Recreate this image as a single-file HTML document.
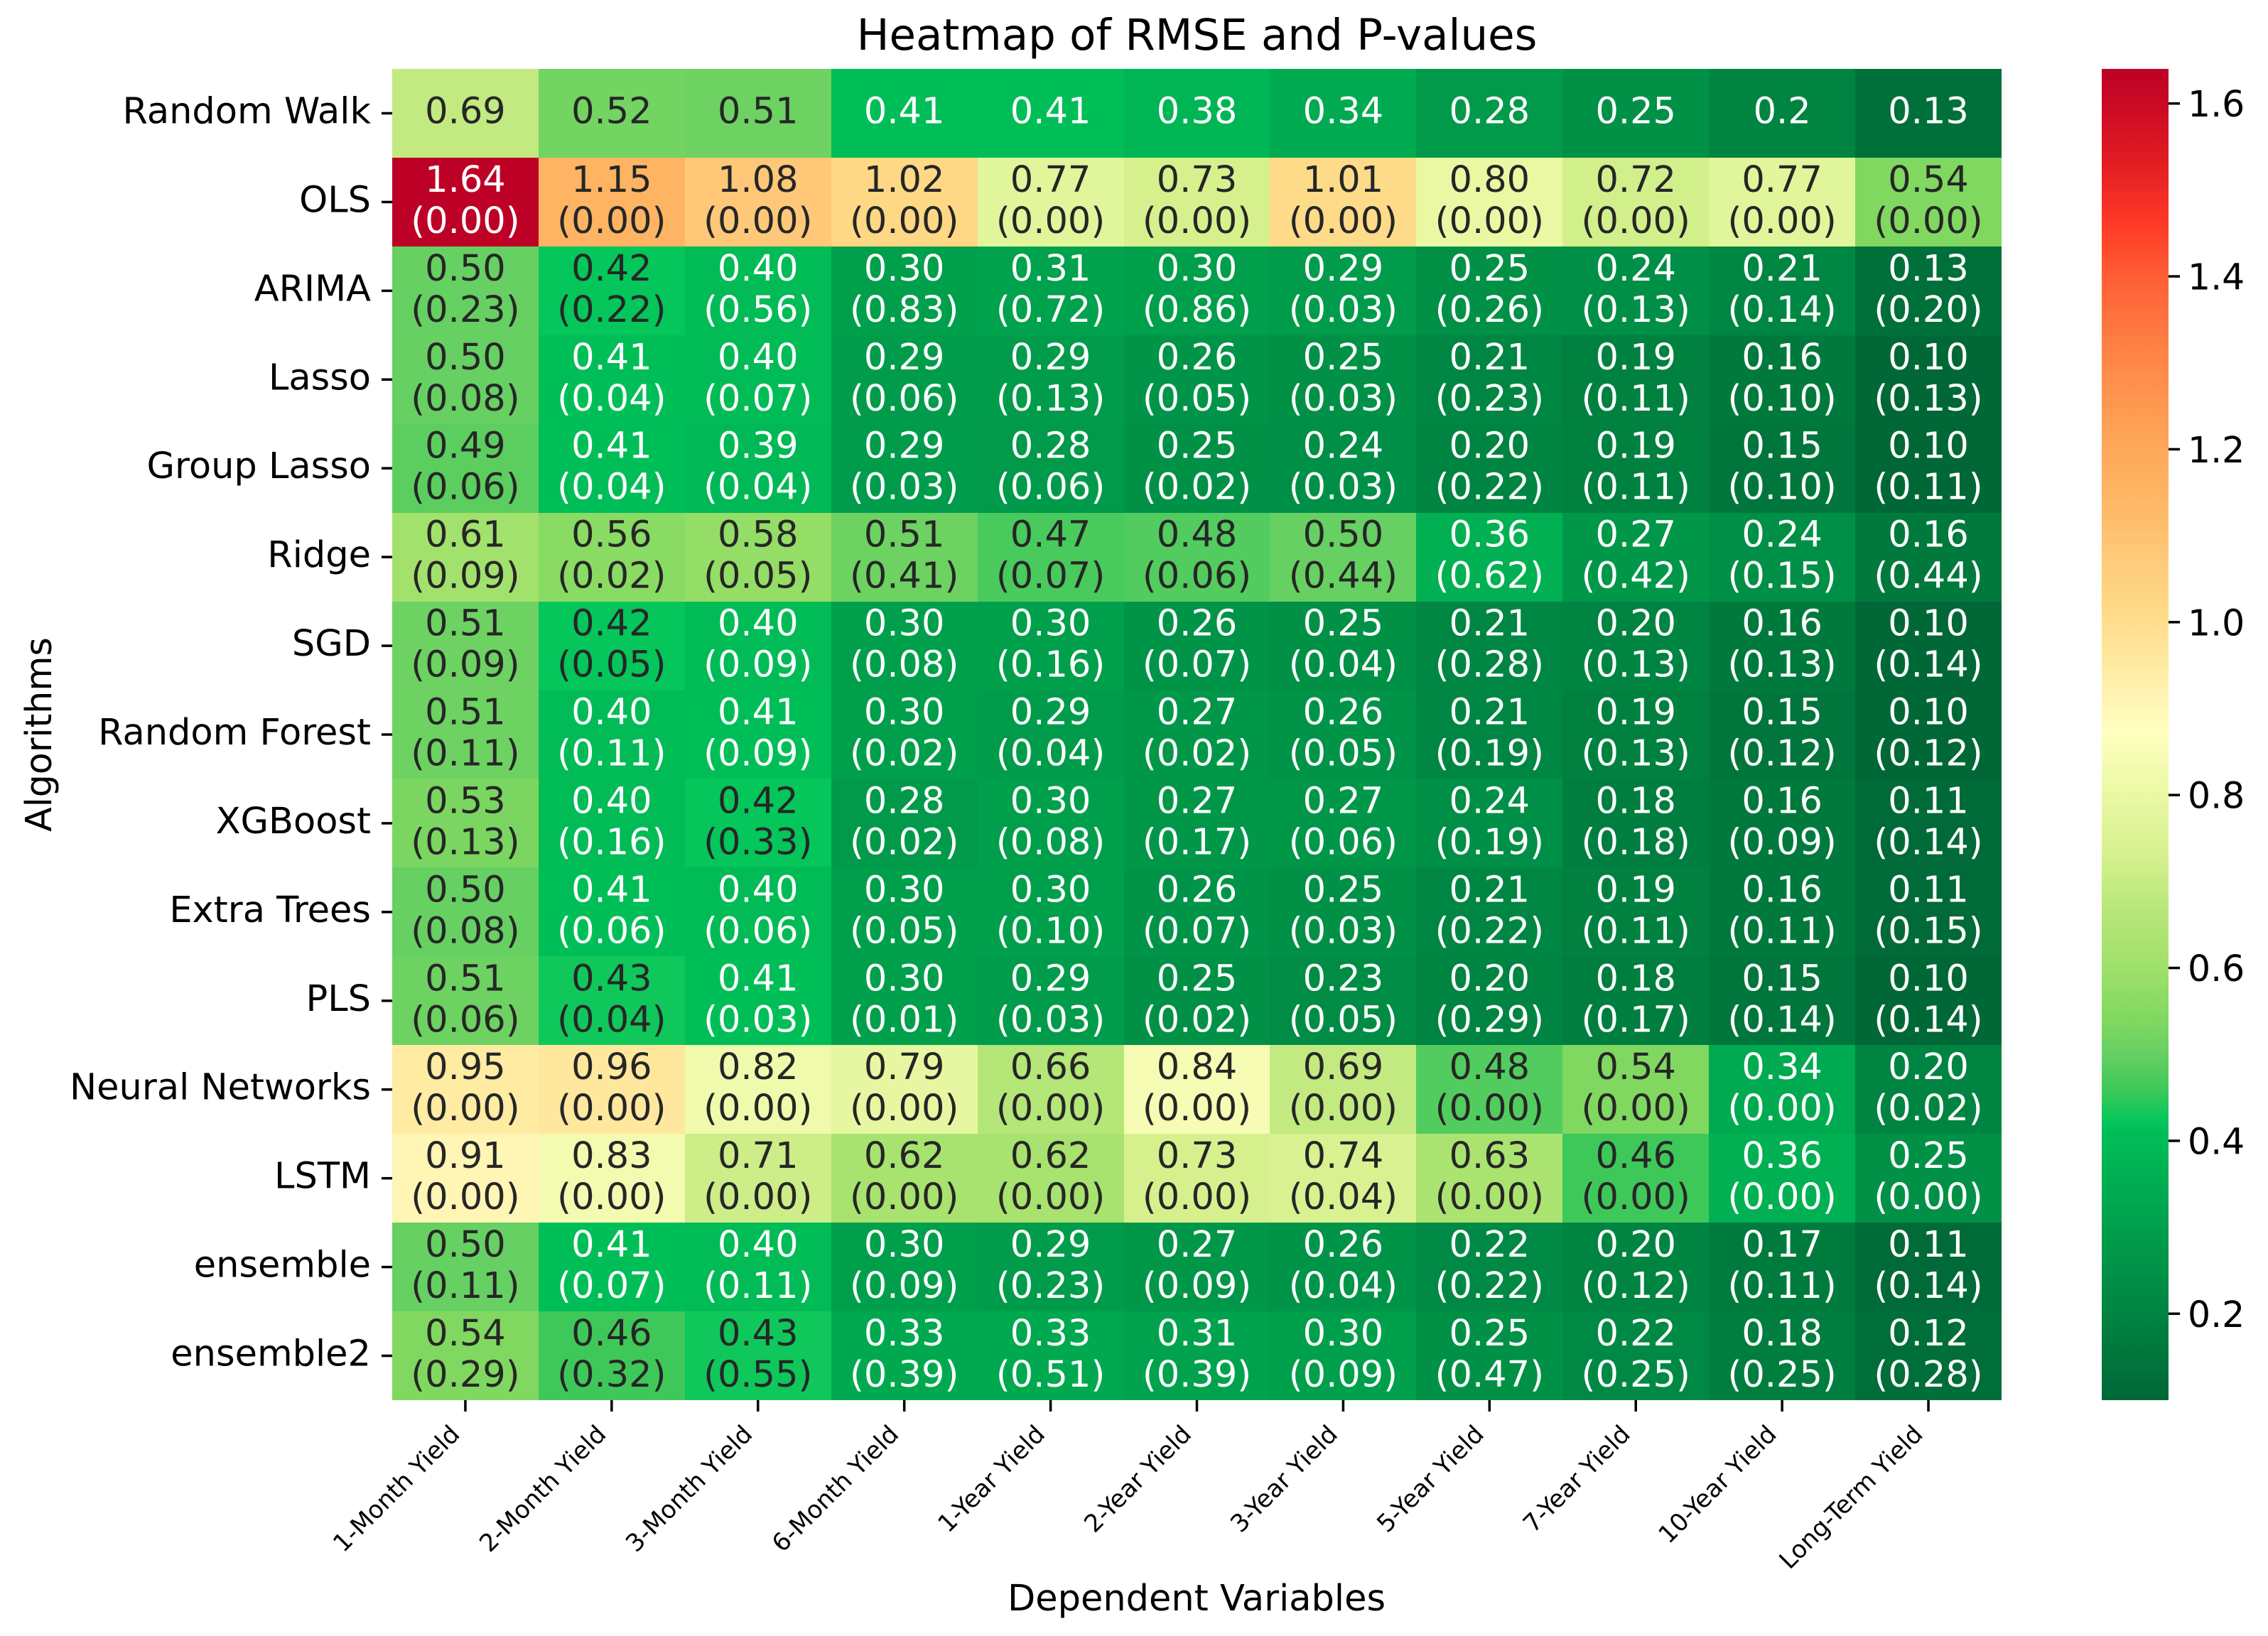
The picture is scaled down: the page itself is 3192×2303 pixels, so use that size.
<!DOCTYPE html>
<html lang="en">
<head>
<meta charset="utf-8">
<title>Heatmap of RMSE and P-values</title>
<style>
html,body{margin:0;padding:0;background:#fff;}
svg{display:block;}
text{font-family:"DejaVu Sans","Liberation Sans",sans-serif;}
</style>
</head>
<body>
<svg id="chart" xmlns="http://www.w3.org/2000/svg" width="3192" height="2303" viewBox="0 0 3192 2303">
  <defs>
    <linearGradient id="cbar-gradient" x1="0" y1="1" x2="0" y2="0"></linearGradient>
  </defs>
  <rect x="0" y="0" width="3192" height="2303" fill="#ffffff"/>
  <text x="1684.5" y="70" font-size="61" text-anchor="middle" fill="#000">Heatmap of RMSE and P-values</text>
  <text x="1684" y="2267" font-size="51" text-anchor="middle" fill="#000">Dependent Variables</text>
  <text transform="translate(72 1034) rotate(-90)" x="0" y="0" font-size="50.5" text-anchor="middle" fill="#000">Algorithms</text>
  <g id="cells"></g>
  <g id="annotations"></g>
  <g id="x-axis"></g>
  <g id="y-axis"></g>
  <rect id="cbar" fill="url(#cbar-gradient)"/>
  <g id="cbar-axis"></g>
</svg>
<script>
const algorithms = ["Random Walk","OLS","ARIMA","Lasso","Group Lasso","Ridge","SGD","Random Forest","XGBoost","Extra Trees","PLS","Neural Networks","LSTM","ensemble","ensemble2"];
const variables = ["1-Month Yield","2-Month Yield","3-Month Yield","6-Month Yield","1-Year Yield","2-Year Yield","3-Year Yield","5-Year Yield","7-Year Yield","10-Year Yield","Long-Term Yield"];
const rmseRandomWalk = [0.69,0.52,0.51,0.41,0.41,0.38,0.34,0.28,0.25,0.2,0.13];
const rmseOLS = [1.64,1.15,1.08,1.02,0.77,0.73,1.01,0.80,0.72,0.77,0.54];
const rmseARIMA = [0.50,0.42,0.40,0.30,0.31,0.30,0.29,0.25,0.24,0.21,0.13];
const rmseLasso = [0.50,0.41,0.40,0.29,0.29,0.26,0.25,0.21,0.19,0.16,0.10];
const rmseGroupLasso = [0.49,0.41,0.39,0.29,0.28,0.25,0.24,0.20,0.19,0.15,0.10];
const rmseRidge = [0.61,0.56,0.58,0.51,0.47,0.48,0.50,0.36,0.27,0.24,0.16];
const rmseSGD = [0.51,0.42,0.40,0.30,0.30,0.26,0.25,0.21,0.20,0.16,0.10];
const rmseRandomForest = [0.51,0.40,0.41,0.30,0.29,0.27,0.26,0.21,0.19,0.15,0.10];
const rmseXGBoost = [0.53,0.40,0.42,0.28,0.30,0.27,0.27,0.24,0.18,0.16,0.11];
const rmseExtraTrees = [0.50,0.41,0.40,0.30,0.30,0.26,0.25,0.21,0.19,0.16,0.11];
const rmsePLS = [0.51,0.43,0.41,0.30,0.29,0.25,0.23,0.20,0.18,0.15,0.10];
const rmseNeuralNetworks = [0.95,0.96,0.82,0.79,0.66,0.84,0.69,0.48,0.54,0.34,0.20];
const rmseLSTM = [0.91,0.83,0.71,0.62,0.62,0.73,0.74,0.63,0.46,0.36,0.25];
const rmseEnsemble = [0.50,0.41,0.40,0.30,0.29,0.27,0.26,0.22,0.20,0.17,0.11];
const rmseEnsemble2 = [0.54,0.46,0.43,0.33,0.33,0.31,0.30,0.25,0.22,0.18,0.12];
const pRandomWalk = [null,null,null,null,null,null,null,null,null,null,null];
const pOLS = [0,0,0,0,0,0,0,0,0,0,0];
const pARIMA = [0.23,0.22,0.56,0.83,0.72,0.86,0.03,0.26,0.13,0.14,0.20];
const pLasso = [0.08,0.04,0.07,0.06,0.13,0.05,0.03,0.23,0.11,0.10,0.13];
const pGroupLasso = [0.06,0.04,0.04,0.03,0.06,0.02,0.03,0.22,0.11,0.10,0.11];
const pRidge = [0.09,0.02,0.05,0.41,0.07,0.06,0.44,0.62,0.42,0.15,0.44];
const pSGD = [0.09,0.05,0.09,0.08,0.16,0.07,0.04,0.28,0.13,0.13,0.14];
const pRandomForest = [0.11,0.11,0.09,0.02,0.04,0.02,0.05,0.19,0.13,0.12,0.12];
const pXGBoost = [0.13,0.16,0.33,0.02,0.08,0.17,0.06,0.19,0.18,0.09,0.14];
const pExtraTrees = [0.08,0.06,0.06,0.05,0.10,0.07,0.03,0.22,0.11,0.11,0.15];
const pPLS = [0.06,0.04,0.03,0.01,0.03,0.02,0.05,0.29,0.17,0.14,0.14];
const pNeuralNetworks = [0,0,0,0,0,0,0,0,0,0,0.02];
const pLSTM = [0,0,0,0,0,0,0.04,0,0,0,0];
const pEnsemble = [0.11,0.07,0.11,0.09,0.23,0.09,0.04,0.22,0.12,0.11,0.14];
const pEnsemble2 = [0.29,0.32,0.55,0.39,0.51,0.39,0.09,0.47,0.25,0.25,0.28];
const colorbarTicks = [0.2,0.4,0.6,0.8,1.0,1.2,1.4,1.6];
const colorDomain = [0.10,1.64];

const rmseRows = [rmseRandomWalk,rmseOLS,rmseARIMA,rmseLasso,rmseGroupLasso,rmseRidge,rmseSGD,rmseRandomForest,rmseXGBoost,rmseExtraTrees,rmsePLS,rmseNeuralNetworks,rmseLSTM,rmseEnsemble,rmseEnsemble2];
const pRows = [pRandomWalk,pOLS,pARIMA,pLasso,pGroupLasso,pRidge,pSGD,pRandomForest,pXGBoost,pExtraTrees,pPLS,pNeuralNetworks,pLSTM,pEnsemble,pEnsemble2];

const NS = "http://www.w3.org/2000/svg";
const plot = {left:552,right:2817,top:97,bottom:1971};
const bar = {left:2958,right:3052};
const cellW = (plot.right-plot.left)/variables.length;
const cellH = (plot.bottom-plot.top)/algorithms.length;
const xBand = i => plot.left + cellW*i;
const yBand = i => plot.top + cellH*i;
const cbarY = v => plot.bottom - (v-colorDomain[0])/(colorDomain[1]-colorDomain[0])*(plot.bottom-plot.top);

// Colormap anchor stops: [value, [r,g,b]]
const ramp = [
  [0.10,[0,104,55]],[0.415,[0,191,88]],[0.42,[4,198,91]],[0.43,[15,199,91]],[0.46,[63,200,90]],
  [0.50,[102,208,98]],[0.54,[128,216,96]],[0.62,[168,226,111]],[0.66,[180,230,120]],[0.73,[214,240,142]],
  [0.80,[234,248,164]],[0.87,[255,255,191]],[0.91,[255,245,180]],[0.96,[255,232,158]],[1.02,[254,216,132]],
  [1.08,[254,200,120]],[1.15,[254,180,98]],[1.20,[254,168,90]],[1.30,[255,136,72]],[1.40,[255,94,54]],
  [1.46,[254,58,38]],[1.54,[222,26,34]],[1.64,[189,0,38]]
];
function colorRGB(v){
  if(v<=ramp[0][0]) return ramp[0][1];
  for(let k=1;k<ramp.length;k++){
    if(v<=ramp[k][0]){
      const a=ramp[k-1],b=ramp[k],t=(v-a[0])/(b[0]-a[0]);
      return a[1].map((c,n)=>Math.round(c+(b[1][n]-c)*t));
    }
  }
  return ramp[ramp.length-1][1];
}
const css = c => "rgb("+c.join(",")+")";
function luminance(c){
  const l=c.map(x=>{x/=255;return x<=0.03928?x/12.92:Math.pow((x+0.055)/1.055,2.4);});
  return 0.2126*l[0]+0.7152*l[1]+0.0722*l[2];
}
function mk(tag,attrs,parent,txt){
  const el=document.createElementNS(NS,tag);
  for(const k in attrs) el.setAttribute(k,attrs[k]);
  if(txt!==undefined) el.textContent=txt;
  parent.appendChild(el);
  return el;
}

const gCells=document.getElementById("cells");
const gAnn=document.getElementById("annotations");
const gX=document.getElementById("x-axis");
const gY=document.getElementById("y-axis");
const gC=document.getElementById("cbar-axis");
const FS=51;

rmseRows.forEach((row,r)=>{
  row.forEach((v,c)=>{
    const rgb=colorRGB(v);
    const x0=Math.round(xBand(c)),x1=Math.round(xBand(c+1)),y0=Math.round(yBand(r)),y1=Math.round(yBand(r+1));
    const cell=mk("rect",{x:x0,y:y0,width:x1-x0,height:y1-y0,fill:css(rgb)},gCells);
    
    
    const fill=luminance(rgb)<0.408?"#ffffff":"#262626";
    const cx=xBand(c)+cellW/2, cy=yBand(r)+cellH/2;
    const p=pRows[r][c];
    if(p===null){
      const t=mk("text",{x:cx,y:cy+14,"font-size":FS,"text-anchor":"middle",fill:fill},gAnn,String(v));
      
      
    }else{
      const t1=mk("text",{x:cx,y:cy-14.5,"font-size":FS,"text-anchor":"middle",fill:fill},gAnn,v.toFixed(2));
      
      
      const t2=mk("text",{x:cx,y:cy+43.5,"font-size":FS,"text-anchor":"middle",fill:fill},gAnn,"("+p.toFixed(2)+")");
      
      
    }
  });
});

variables.forEach((name,i)=>{
  const x=xBand(i)+cellW/2;
  const tick=mk("line",{x1:x,x2:x,y1:plot.bottom,y2:plot.bottom+16,stroke:"#000","stroke-width":3.5},gX);
  
  
  const px=x-6, py=plot.bottom+50;
  const lab=mk("text",{transform:"translate("+px+" "+py+") rotate(-45)",x:0,y:0,"font-size":34.3,"text-anchor":"end",fill:"#000"},gX,name);
  
  
});

algorithms.forEach((name,i)=>{
  const y=yBand(i)+cellH/2;
  const tick=mk("line",{x1:plot.left-15,x2:plot.left,y1:y,y2:y,stroke:"#000","stroke-width":3.5},gY);
  
  
  const lab=mk("text",{x:plot.left-30,y:y+14,"font-size":FS,"text-anchor":"end",fill:"#000"},gY,name);
  
  
});

const grad=document.getElementById("cbar-gradient");
for(let k=0;k<=200;k++){
  const v=colorDomain[0]+(colorDomain[1]-colorDomain[0])*k/200;
  mk("stop",{offset:(k/200),"stop-color":css(colorRGB(v))},grad);
}
const cb=document.getElementById("cbar");
cb.setAttribute("x",bar.left);
cb.setAttribute("y",plot.top);
cb.setAttribute("width",bar.right-bar.left);
cb.setAttribute("height",plot.bottom-plot.top);

colorbarTicks.forEach(v=>{
  const y=cbarY(v);
  const tick=mk("line",{x1:bar.right,x2:bar.right+16,y1:y,y2:y,stroke:"#000","stroke-width":3.5},gC);
  
  
  const lab=mk("text",{x:bar.right+27,y:y+18.5,"font-size":50.5,fill:"#000"},gC,v.toFixed(1));
  
  
});
</script>
</body>
</html>
